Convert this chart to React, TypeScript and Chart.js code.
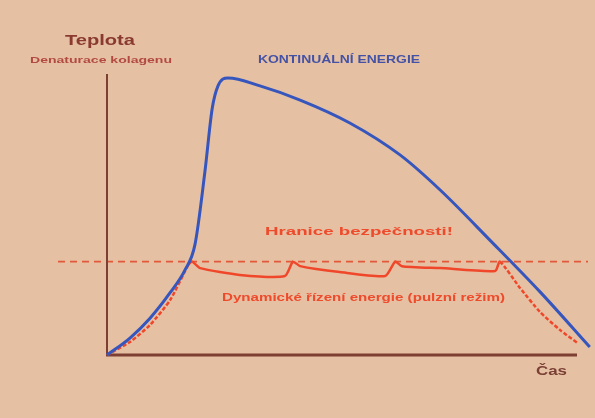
import React, { useEffect, useRef } from "react";
import { Chart, registerables } from "chart.js";

Chart.register(...registerables);

// Data (arbitrary units: time 0..100, temperature 0..100)
const blueX = [0, 4.8, 9, 13.2, 16.3, 18.4, 20.5, 22, 23.2, 25.3, 32, 40.4, 50.8, 61.3, 69.7, 80.1, 90.6, 101];
const blueY = [0, 6, 13, 22, 30, 39, 65, 87, 95, 97.9, 95.1, 90.1, 82, 70.7, 58.3, 40.6, 22.3, 2.8];

const redX = [0, 4.8, 9, 13.2, 17, 17.8, 19.5, 27.8, 37.2, 38.9, 40.4, 48.7, 58.2, 60.3, 61.7, 69.7, 81.2, 82.2, 86.4, 90.6, 94.8, 98.5];
const redY = [0, 4.6, 10.6, 19.4, 31.8, 33, 30.7, 28.3, 27.9, 33, 31.4, 29.3, 27.9, 33, 31.4, 30.7, 29.7, 33, 23.7, 15.2, 8.8, 4.2];
const RISE_END = 5; // index where plateau starts
const FALL_START = 17; // index where descent starts

const THRESHOLD = 33;

const yTitle = "Teplota";
const ySubtitle = "Denaturace kolagenu";
const blueLabel = "KONTINUÁLNÍ ENERGIE";
const thresholdLabel = "Hranice bezpečnosti!";
const redLabel = "Dynamické řízení energie (pulzní režim)";
const xTitle = "Čas";

const BG = "#e6c0a3";
const AXIS = "#7d3f32";
const BLUE = "#3656bd";
const RED = "#f0472a";

function fillFit(ctx: CanvasRenderingContext2D, text: string, x: number, y: number, w: number) {
  const m = ctx.measureText(text).width;
  const s = w / m;
  ctx.save();
  ctx.translate(x, y);
  ctx.scale(s, 1);
  ctx.fillText(text, 0, 0);
  ctx.restore();
}

export default function App() {
  const ref = useRef<HTMLCanvasElement>(null);

  useEffect(() => {
    const canvas = ref.current;
    if (!canvas) return;

    const overlay = {
      id: "overlay",
      beforeDatasetsDraw(chart: any) {
        const ctx = chart.ctx;
        const { left, right, top, bottom } = chart.chartArea;
        const ys = chart.scales.y;
        ctx.save();
        const ty = ys.getPixelForValue(THRESHOLD);
        ctx.strokeStyle = "#e2583a";
        ctx.lineWidth = 1.6;
        ctx.setLineDash([7, 5]);
        ctx.beginPath();
        ctx.moveTo(58, ty);
        ctx.lineTo(588, ty);
        ctx.stroke();
        ctx.setLineDash([]);
        ctx.strokeStyle = AXIS;
        ctx.lineWidth = 2;
        ctx.beginPath();
        ctx.moveTo(left, bottom);
        ctx.lineTo(left, top + 2);
        ctx.stroke();
        ctx.lineWidth = 3;
        ctx.beginPath();
        ctx.moveTo(left - 1, bottom);
        ctx.lineTo(right - 8, bottom);
        ctx.stroke();
        ctx.restore();
      },
      afterDraw(chart: any) {
        const ctx = chart.ctx;
        ctx.save();
        ctx.textBaseline = "middle";
        ctx.textAlign = "left";
        ctx.fillStyle = "#8a3a30";
        ctx.font = "bold 14px 'Liberation Sans', Arial, sans-serif";
        fillFit(ctx, yTitle, 65, 41, 70);
        ctx.fillStyle = "#b24a42";
        ctx.font = "bold 9.5px 'Liberation Sans', Arial, sans-serif";
        fillFit(ctx, ySubtitle, 30, 60, 142);
        ctx.fillStyle = "#4452a6";
        ctx.font = "bold 10px 'Liberation Sans', Arial, sans-serif";
        fillFit(ctx, blueLabel, 258, 60, 162);
        ctx.fillStyle = "#ee4a2c";
        ctx.font = "bold 10.5px 'Liberation Sans', Arial, sans-serif";
        fillFit(ctx, thresholdLabel, 265, 232, 188);
        fillFit(ctx, redLabel, 222, 298, 283);
        ctx.fillStyle = "#7a4036";
        ctx.font = "bold 13px 'Liberation Sans', Arial, sans-serif";
        fillFit(ctx, xTitle, 536, 371, 31);
        ctx.restore();
      },
    };

    const chart = new Chart(canvas, {
      type: "line",
      data: {
        datasets: [
          {
            label: blueLabel,
            data: blueX.map((x, i) => ({ x, y: blueY[i] })),
            borderColor: BLUE,
            borderWidth: 3,
            pointRadius: 0,
            tension: 0.4,
            cubicInterpolationMode: "monotone",
            clip: false,
          },
          {
            label: redLabel,
            data: redX.map((x, i) => ({ x, y: redY[i] })),
            borderColor: RED,
            borderWidth: 2.5,
            pointRadius: 0,
            tension: 0.2,
            clip: false,
            segment: {
              borderDash: (c: any) =>
                c.p0DataIndex < RISE_END - 1 || c.p0DataIndex >= FALL_START ? [4, 2] : undefined,
            },
          },
        ],
      },
      options: {
        responsive: false,
        animation: false,
        layout: { padding: { left: 107, right: 10, top: 72, bottom: 63 } },
        plugins: { legend: { display: false }, tooltip: { enabled: false } },
        scales: {
          x: { type: "linear", min: 0, max: 100, display: false },
          y: { type: "linear", min: 0, max: 100, display: false },
        },
      },
      plugins: [overlay],
    } as any);

    return () => chart.destroy();
  }, []);

  return (
    <div style={{ position: "fixed", left: 0, top: 0, width: 595, height: 418, background: BG }}>
      <canvas ref={ref} width={595} height={418} style={{ display: "block" }} />
    </div>
  );
}
